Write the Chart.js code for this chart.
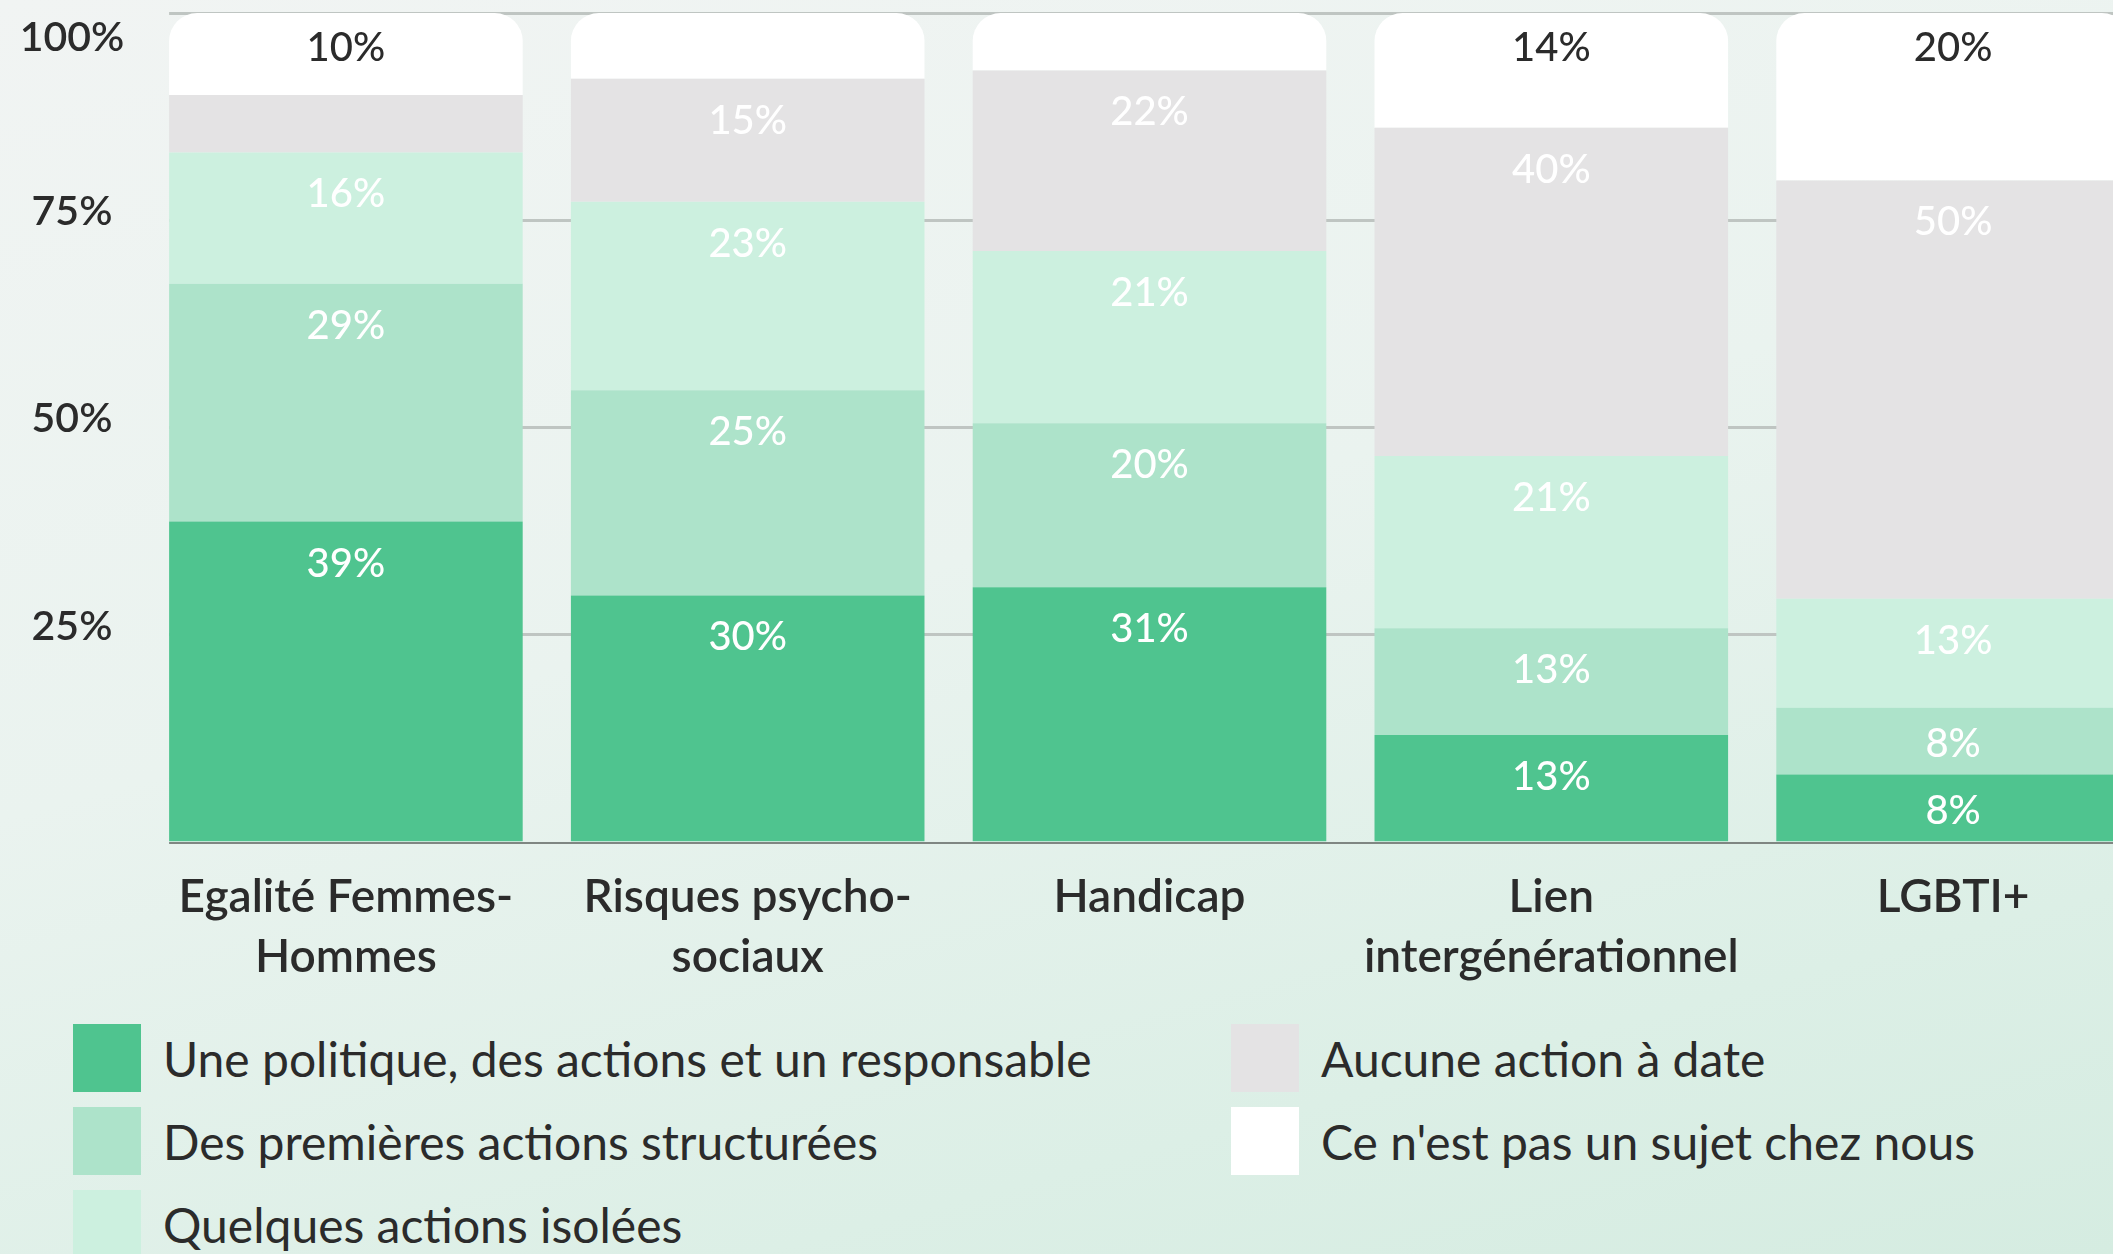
<!DOCTYPE html>
<html lang="fr">
<head>
<meta charset="utf-8">
<title>Diversité et inclusion : niveau d'engagement par thème</title>
<script src="https://cdn.jsdelivr.net/npm/chart.js@4.4.1/dist/chart.umd.min.js"></script>
<style>
html, body {
  margin: 0;
  padding: 0;
}
body {
  width: 2113px;
  height: 1254px;
  overflow: hidden;
  position: relative;
  background: linear-gradient(165deg, #f1f4f3 0%, #eaf3ef 45%, #dcefe6 80%, #d5ece1 100%);
  font-family: "Lato", sans-serif;
  color: #2b2b2b;
}
#chart {
  position: absolute;
  left: 0;
  top: 0;
}
#legend {
  position: absolute;
  left: 73px;
  top: 1024px;
  display: grid;
  grid-template-columns: 1158px auto;
  grid-template-rows: repeat(3, 68px);
  grid-auto-flow: column;
  row-gap: 15px;
}
.item {
  display: flex;
  align-items: center;
  font-size: 48px;
  white-space: nowrap;
}
.item span.box {
  width: 68px;
  height: 68px;
  margin-right: 22px;
  flex: none;
}
</style>
</head>
<body>
<canvas id="chart" width="2160" height="1013"></canvas>
<div id="legend"></div>

<script>
const categories = [
  ["Egalité Femmes-", "Hommes"],
  ["Risques psycho-", "sociaux"],
  "Handicap",
  ["Lien", "intergénérationnel"],
  "LGBTI+"
];

const seriesNames = [
  "Une politique, des actions et un responsable",
  "Des premières actions structurées",
  "Quelques actions isolées",
  "Aucune action à date",
  "Ce n'est pas un sujet chez nous"
];

// % of respondents per answer, one array per answer
const politique = [39, 30, 31, 13, 8];
const premieres = [29, 25, 20, 13, 8];
const isolees   = [16, 23, 21, 21, 13];
const aucune    = [7, 15, 22, 40, 50];
const pasSujet  = [10, 8, 7, 14, 20];

// segments printed without their value: [series, category]
const unlabeled = [[3, 0], [4, 1], [4, 2]];

const yTicks = [0, 25, 50, 75, 100];

const colors = ["#4fc48f", "#ade3ca", "#ccf0df", "#e4e3e4", "#ffffff"];

const series = [politique, premieres, isolees, aucune, pasSujet];

// every column is stacked to 100%
const totals = categories.map((c, i) => series.reduce((s, arr) => s + arr[i], 0));

const datasets = series.map((arr, k) => ({
  label: seriesNames[k],
  raw: arr,
  data: arr.map((v, i) => v / totals[i] * 100),
  backgroundColor: colors[k],
  borderWidth: 0,
  borderRadius: k === series.length - 1 ? { topLeft: 28, topRight: 28, bottomLeft: 0, bottomRight: 0 } : 0,
  borderSkipped: false,
  barPercentage: 0.88,
  categoryPercentage: 1
}));

const textColor = "#2b2b2b";

// grid lines start at the first bar, baseline is darker
const gridPlugin = {
  id: "gridLines",
  beforeDatasetsDraw(chart) {
    const ctx = chart.ctx;
    const y = chart.scales.y;
    const first = chart.getDatasetMeta(0).data[0];
    const left = first.x - first.width / 2;
    ctx.save();
    ctx.strokeStyle = "#bfc5c2";
    ctx.lineWidth = 3;
    yTicks.forEach(v => {
      if (v === 0) return;
      const py = Math.round(y.getPixelForValue(v)) + 0.5;
      ctx.beginPath();
      ctx.moveTo(left, py);
      ctx.lineTo(chart.chartArea.right, py);
      ctx.stroke();
    });
    // y labels, sitting just above their line
    ctx.fillStyle = textColor;
    ctx.font = "600 41px Lato";
    ctx.textAlign = "center";
    ctx.textBaseline = "middle";
    yTicks.forEach(v => {
      if (v === 0) return;
      const py = Math.max(y.getPixelForValue(v) - 8, chart.chartArea.top + 25);
      ctx.fillText(v + "%", 72, py);
    });
    ctx.restore();
  },
  afterDatasetsDraw(chart) {
    const ctx = chart.ctx;
    const y = chart.scales.y;
    const first = chart.getDatasetMeta(0).data[0];
    const left = first.x - first.width / 2;
    const py = Math.round(y.getPixelForValue(0)) + 1;
    ctx.save();
    ctx.strokeStyle = "#7f8682";
    ctx.lineWidth = 2;
    ctx.beginPath();
    ctx.moveTo(left, py);
    ctx.lineTo(chart.chartArea.right, py);
    ctx.stroke();
    ctx.restore();
  }
};

// value labels near the top of each segment
const valuePlugin = {
  id: "segmentValues",
  afterDatasetsDraw(chart) {
    const ctx = chart.ctx;
    ctx.save();
    ctx.font = "500 40px Lato";
    ctx.textAlign = "center";
    ctx.textBaseline = "middle";
    chart.data.datasets.forEach((ds, k) => {
      const last = k === series.length - 1;
      chart.getDatasetMeta(k).data.forEach((bar, i) => {
        if (unlabeled.some(u => u[0] === k && u[1] === i)) return;
        const top = Math.min(bar.y, bar.base);
        const h = Math.abs(bar.base - bar.y);
        ctx.fillStyle = last ? textColor : "#ffffff";
        ctx.fillText(ds.raw[i] + "%", bar.x, top + Math.min(last ? 35 : 42, h * 0.55));
      });
    });
    ctx.restore();
  }
};

new Chart(document.getElementById("chart"), {
  type: "bar",
  data: { labels: categories, datasets: datasets },
  options: {
    responsive: false,
    animation: false,
    layout: { padding: { top: 13, left: 145, right: 6, bottom: 0 } },
    plugins: {
      legend: { display: false },
      tooltip: { enabled: false }
    },
    scales: {
      x: {
        stacked: true,
        grid: { display: false, drawTicks: false },
        border: { display: false },
        ticks: {
          color: textColor,
          font: { family: "Lato", size: 46, weight: 600, lineHeight: 1.32 },
          padding: 25,
          maxRotation: 0,
          autoSkip: false
        }
      },
      y: {
        stacked: true,
        display: false,
        min: 0,
        max: 100
      }
    }
  },
  plugins: [gridPlugin, valuePlugin]
});

// legend: first three answers on the left, the other two on the right
const legend = document.getElementById("legend");
seriesNames.forEach((name, k) => {
  const item = document.createElement("div");
  item.className = "item";
  const box = document.createElement("span");
  box.className = "box";
  box.style.background = colors[k];
  item.appendChild(box);
  item.appendChild(document.createTextNode(name));
  legend.appendChild(item);
});
</script>
</body>
</html>
